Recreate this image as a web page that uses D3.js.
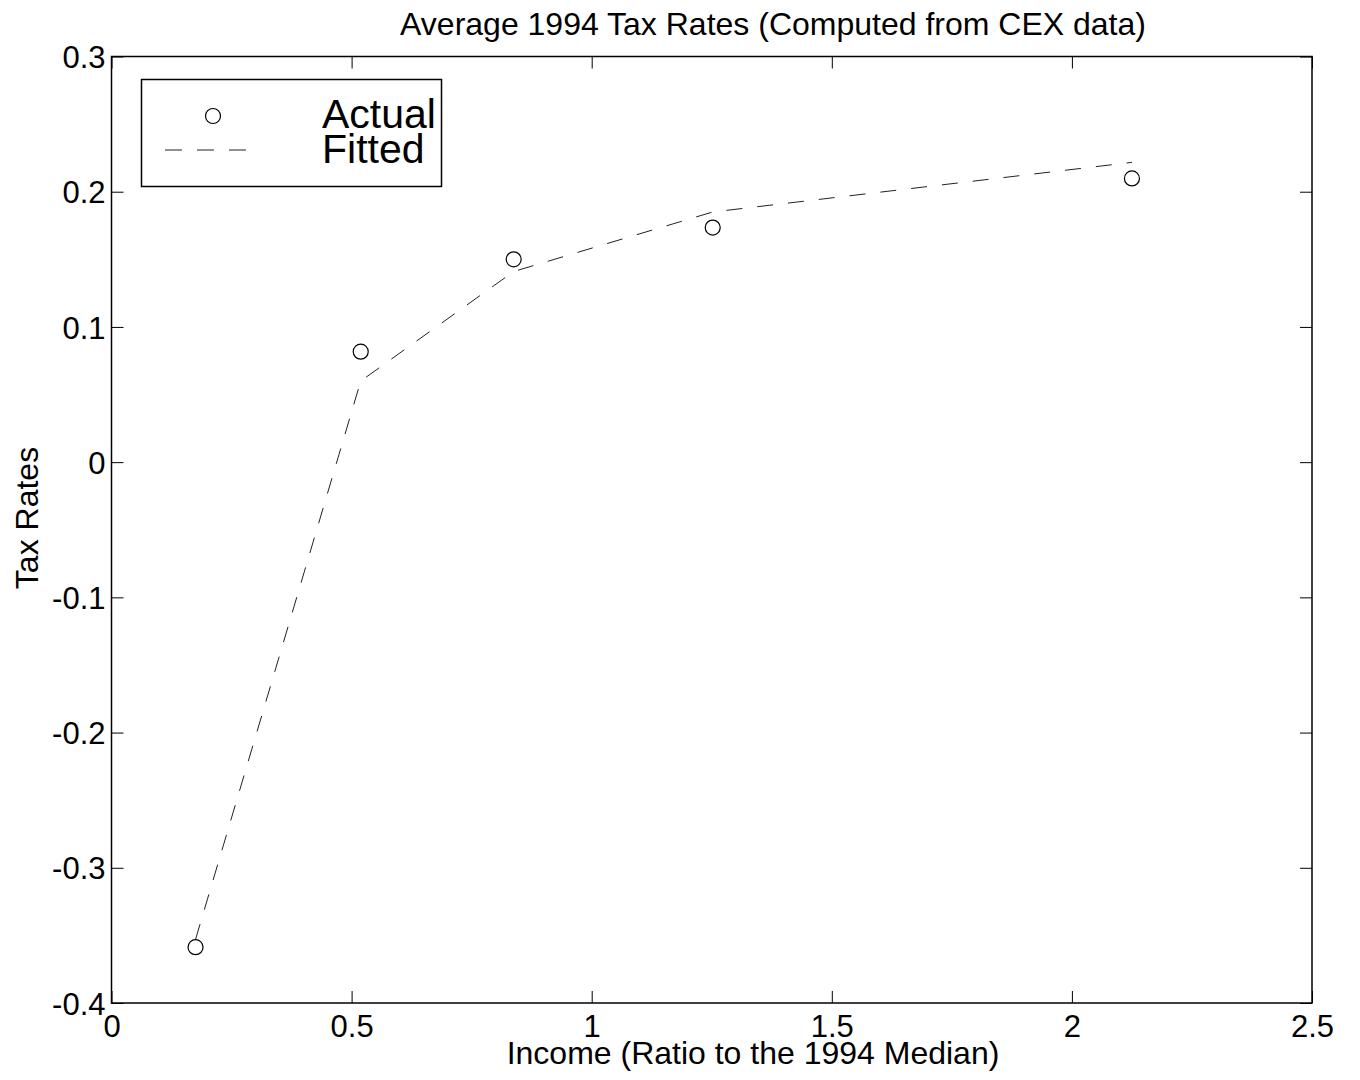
<!DOCTYPE html>
<html>
<head>
<meta charset="utf-8">
<script src="https://cdn.jsdelivr.net/npm/d3@7"></script>
<style>
  body { margin: 0; background: #fff; }
  svg { display: block; font-family: "Liberation Sans", Arial, sans-serif; }
</style>
</head>
<body>
<svg id="chart"></svg>
<script>
// values
const incomeRatio = [0.175, 0.519, 0.8375, 1.252, 2.125];
const actualRate = [-0.3587, 0.0817, 0.150, 0.1735, 0.2098];
const fittedRate = [-0.353, 0.06, 0.141, 0.185, 0.2217];
const xTicks = [0, 0.5, 1, 1.5, 2, 2.5];
const yTicks = [-0.4, -0.3, -0.2, -0.1, 0, 0.1, 0.2, 0.3];
const legendLabels = ["Actual", "Fitted"];

const W = 1360, H = 1080;
const plot = {left: 111.5, right: 1312, top: 56.5, bottom: 1003};

const svg = d3.select("#chart").attr("width", W).attr("height", H);

const x = d3.scaleLinear().domain([0, 2.5]).range([plot.left, plot.right]);
const y = d3.scaleLinear().domain([-0.4, 0.3]).range([plot.bottom, plot.top]);

// plain hyphen for negatives, like the original
const fmt = d => String(+d.toFixed(1));

const addAxis = (axis, tx, ty, showLabels) => {
    const g = svg.append("g")
        .attr("transform", "translate(" + tx + "," + ty + ")")
        .call(axis);
    g.select(".domain").remove();
    g.selectAll(".tick line").attr("stroke", "#000").attr("stroke-width", 1);
    if (showLabels) {
        g.selectAll(".tick text")
            .attr("fill", "#000")
            .attr("font-size", 31)
            .attr("font-family", "'Liberation Sans', Arial, sans-serif");
    } else {
        g.selectAll(".tick text").remove();
    }
    return g;
};

// ticks point inward on all four sides
const gx = addAxis(d3.axisBottom(x).tickValues(xTicks).tickSize(-12).tickPadding(0).tickFormat(fmt), 0, plot.bottom, true);
gx.selectAll(".tick text").attr("y", 34).attr("dy", 0);
addAxis(d3.axisTop(x).tickValues(xTicks).tickSize(-12), 0, plot.top, false);
const gy = addAxis(d3.axisLeft(y).tickValues(yTicks).tickSize(-12).tickFormat(fmt), plot.left, 0, true);
gy.selectAll(".tick text").attr("x", -6).attr("dy", "0.36em");
addAxis(d3.axisRight(y).tickValues(yTicks).tickSize(-12), plot.right, 0, false);

// frame
svg.append("rect")
    .attr("x", plot.left).attr("y", plot.top)
    .attr("width", plot.right - plot.left).attr("height", plot.bottom - plot.top)
    .attr("fill", "none").attr("stroke", "#000").attr("stroke-width", 1.5);

// fitted line
const fitted = incomeRatio.map((v, i) => ({x: v, y: fittedRate[i]}));
svg.append("path")
    .datum(fitted)
    .attr("fill", "none")
    .attr("stroke", "#222")
    .attr("stroke-width", 1)
    .attr("stroke-dasharray", "16,15")
    .attr("d", d3.line().x(d => x(d.x)).y(d => y(d.y)));

// actual points
svg.append("g")
    .selectAll("circle")
    .data(incomeRatio.map((v, i) => ({x: v, y: actualRate[i]})))
    .join("circle")
    .attr("cx", d => x(d.x))
    .attr("cy", d => y(d.y))
    .attr("r", 7.5)
    .attr("fill", "none")
    .attr("stroke", "#000")
    .attr("stroke-width", 1.2);

// legend
const legend = svg.append("g");
legend.append("rect")
    .attr("x", 141.5).attr("y", 79.5).attr("width", 300).attr("height", 107)
    .attr("fill", "#fff").attr("stroke", "#000").attr("stroke-width", 1.5);
legend.append("circle")
    .attr("cx", 213).attr("cy", 116).attr("r", 7.5)
    .attr("fill", "none").attr("stroke", "#000").attr("stroke-width", 1.2);
legend.append("line")
    .attr("x1", 165).attr("x2", 246).attr("y1", 150).attr("y2", 150)
    .attr("stroke", "#222").attr("stroke-width", 1).attr("stroke-dasharray", "17,15");
legend.selectAll("text")
    .data(legendLabels)
    .join("text")
    .attr("x", 322)
    .attr("y", (d, i) => 128 + i * 35)
    .attr("font-size", 41)
    .text(d => d);

// titles
svg.append("text")
    .attr("x", 773).attr("y", 35)
    .attr("text-anchor", "middle")
    .attr("font-size", 32)
    .text("Average 1994 Tax Rates (Computed from CEX data)");

svg.append("text")
    .attr("x", 753).attr("y", 1064)
    .attr("text-anchor", "middle")
    .attr("font-size", 32)
    .text("Income (Ratio to the 1994 Median)");

svg.append("text")
    .attr("transform", "translate(38,518) rotate(-90)")
    .attr("text-anchor", "middle")
    .attr("font-size", 32)
    .text("Tax Rates");
</script>
</body>
</html>
